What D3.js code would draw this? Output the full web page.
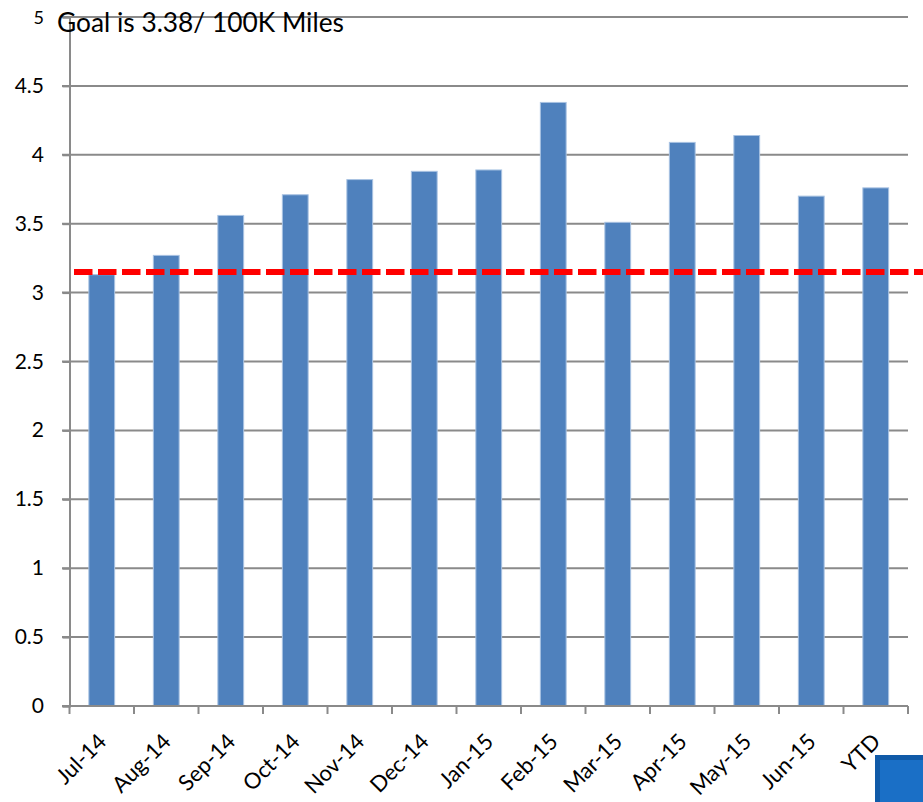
<!DOCTYPE html>
<html>
<head>
<meta charset="utf-8">
<script src="https://cdn.jsdelivr.net/npm/d3@7"></script>
<style>
	body { margin: 0; background: #fff; }
	svg { display: block; font-family: Lato, "Open Sans", sans-serif; }
</style>
</head>
<body>
<div id="chart"></div>
<script>
const months = ["Jul-14", "Aug-14", "Sep-14", "Oct-14", "Nov-14", "Dec-14", "Jan-15", "Feb-15", "Mar-15", "Apr-15", "May-15", "Jun-15", "YTD"];
const rates = [3.13, 3.27, 3.56, 3.71, 3.82, 3.88, 3.89, 4.38, 3.51, 4.09, 4.14, 3.70, 3.76];
const yTicks = [0, 0.5, 1, 1.5, 2, 2.5, 3, 3.5, 4, 4.5, 5];
const goalLine = 3.15;
const title = "Goal is 3.38/ 100K Miles";

const width = 923, height = 802;

const svg = d3.select("#chart")
	.append("svg")
	.attr("width", width)
	.attr("height", height);

const x = d3.scaleBand()
	.domain(months)
	.range([69.5, 908])
	.paddingInner(0.6)
	.paddingOuter(0.3);

const y = d3.scaleLinear()
	.domain([0, 5])
	.range([706, 17]);

// gridlines
svg.append("g")
	.selectAll("line")
	.data(yTicks.filter((d) => d > 0))
	.enter()
	.append("line")
	.attr("x1", 62)
	.attr("x2", 908)
	.attr("y1", (d) => y(d))
	.attr("y2", (d) => y(d))
	.attr("stroke", "#8a8a8a")
	.attr("stroke-width", 2);

// y axis (labels drawn separately)
const yAxis = svg.append("g")
	.attr("transform", "translate(69.5,0)")
	.call(d3.axisLeft(y).tickValues(yTicks).tickSize(7).tickFormat(""));
yAxis.select(".domain").attr("stroke", "#8a8a8a").attr("stroke-width", 2);
yAxis.selectAll(".tick line").attr("stroke", "#8a8a8a").attr("stroke-width", 2);

svg.append("g")
	.selectAll("text")
	.data(yTicks)
	.enter()
	.append("text")
	.attr("x", 44)
	.attr("y", (d) => (d === 5 ? y(d) + 7 : y(d) + 7))
	.attr("text-anchor", "end")
	.attr("font-size", (d) => (d === 5 ? 18 : 21))
	.attr("fill", "#000")
	.text((d) => d);

// bars
svg.append("g")
	.selectAll("rect")
	.data(rates)
	.enter()
	.append("rect")
	.attr("x", (d, i) => x(months[i]))
	.attr("y", (d) => y(d))
	.attr("width", x.bandwidth())
	.attr("height", (d) => y(0) - y(d))
	.attr("fill", "#4f81bd")
	.attr("stroke", "#a8c2e2")
	.attr("stroke-width", 1);

// x axis
const xAxis = svg.append("g")
	.attr("transform", "translate(0,706)");
xAxis.append("line")
	.attr("x1", 62)
	.attr("x2", 908)
	.attr("stroke", "#8a8a8a")
	.attr("stroke-width", 2);
xAxis.selectAll(".tk")
	.data(d3.range(months.length + 1))
	.enter()
	.append("line")
	.attr("class", "tk")
	.attr("x1", (i) => 69.5 + i * x.step())
	.attr("x2", (i) => 69.5 + i * x.step())
	.attr("y1", 0)
	.attr("y2", 8)
	.attr("stroke", "#8a8a8a")
	.attr("stroke-width", 2);
xAxis.selectAll("text")
	.data(months)
	.enter()
	.append("text")
	.attr("transform", (d) => "translate(" + (x(d) + x.bandwidth() / 2 + 6) + ",37) rotate(-45)")
	.attr("text-anchor", "end")
	.attr("font-size", 22)
	.attr("fill", "#000")
	.text((d) => d);

// goal line
svg.append("line")
	.attr("x1", 74)
	.attr("x2", 923)
	.attr("y1", y(goalLine))
	.attr("y2", y(goalLine))
	.attr("stroke", "#ff0000")
	.attr("stroke-width", 6)
	.attr("stroke-dasharray", "18.5,5.5");

// title
svg.append("text")
	.attr("x", 57)
	.attr("y", 32)
	.attr("font-size", 26.3)
	.attr("fill", "#000")
	.text(title);

// blue box in corner
svg.append("rect")
	.attr("x", 877.5)
	.attr("y", 757.5)
	.attr("width", 50)
	.attr("height", 50)
	.attr("fill", "#1a6fc6")
	.attr("stroke", "#105aa8")
	.attr("stroke-width", 5);
</script>
</body>
</html>
